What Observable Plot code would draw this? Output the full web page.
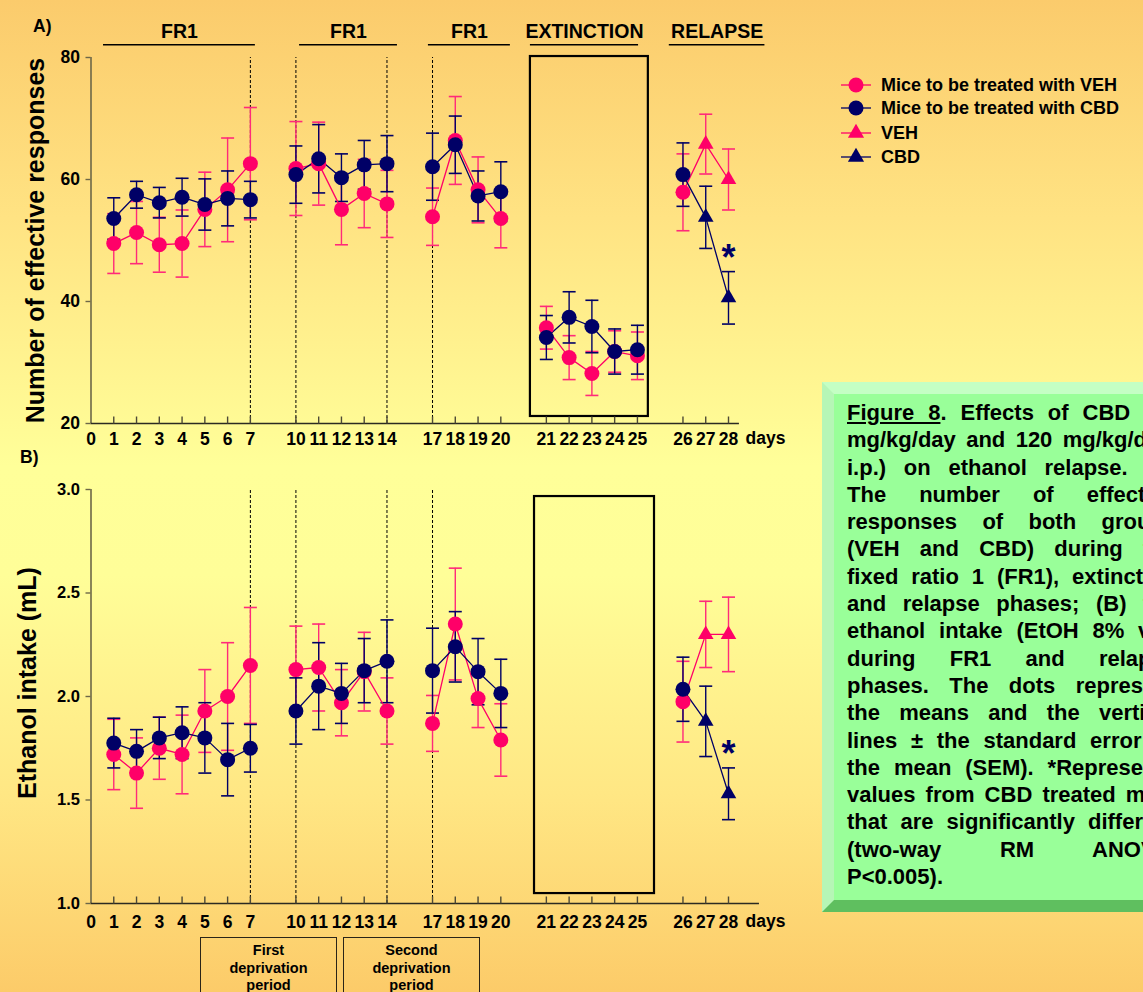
<!DOCTYPE html>
<html>
<head>
<meta charset="utf-8">
<script src="https://cdn.jsdelivr.net/npm/d3@7"></script>
<script src="https://cdn.jsdelivr.net/npm/@observablehq/plot@0.6"></script>
<style>
  html, body { margin: 0; padding: 0; }
  body {
    width: 1143px; height: 992px; overflow: hidden; position: relative;
    background: linear-gradient(to bottom, #FBCB6C 0%, #FFE383 22%, #FFFF99 47%, #FFFE98 58%, #FFE784 80%, #FCCB69 100%);
    font-family: "Liberation Sans", Arial, sans-serif; font-weight: bold; color: #000;
  }
  .abs { position: absolute; }
  .panel-tag { font-size: 17.5px; }
  #caption {
    position: absolute; left: 822px; top: 382px; width: 360px; height: 501px;
    border-style: solid; border-width: 12px;
    border-color: #C4FFC4 #5FBF5F #5FBF5F #B6F6B6;
    background: #99FF99;
    padding: 5px 0 0 13px; box-sizing: content-box;
    font-size: 22px; line-height: 27.3px;
  }
  #caption .ln { width: 329px; text-align: justify; text-align-last: justify; }
  #caption .ln.last { text-align-last: left; }
  .period {
    position: absolute; top: 937px; height: 70px; width: 137px;
    border: 1.5px solid #2a2418; text-align: center;
    font-size: 14.5px; line-height: 17.5px; padding-top: 4px; box-sizing: border-box;
  }
</style>
</head>
<body>
<div class="abs panel-tag" style="left:33px; top:16px;">A)</div>
<div class="abs panel-tag" style="left:20px; top:447px;">B)</div>
<div id="panelA" class="abs" style="left:0; top:0;"></div>
<div id="panelB" class="abs" style="left:0; top:450px;"></div>
<div id="legend" class="abs" style="left:838px; top:70px;"></div>
<div id="caption"></div>
<div class="period" style="left:200px;">First<br>deprivation<br>period</div>
<div class="period" style="left:343px;">Second<br>deprivation<br>period</div>

<script>
// ---- axis categories: day labels, blank entries are spacer slots on the axis ----
const axisSlots = ["0","1","2","3","4","5","6","7","","10","11","12","13","14","","17","18","19","20","","21","22","23","24","25","","26","27","28"];

// ---- (A) number of effective responses ----
const respDays    = [1, 2, 3, 4, 5, 6, 7, 10, 11, 12, 13, 14, 17, 18, 19, 20, 21, 22, 23, 24, 25, 26, 27, 28];
const respVehMean = [49.5, 51.3, 49.3, 49.5, 55.1, 58.3, 62.6, 61.8, 62.6, 55.1, 57.7, 56.0, 53.9, 66.4, 58.3, 53.6, 35.7, 30.8, 28.2, 31.8, 31.1, 57.9, 65.8, 60.0];
const respVehSem  = [4.9, 5.1, 4.5, 5.5, 6.1, 8.5, 9.2, 7.7, 6.8, 5.8, 5.6, 5.5, 4.7, 7.2, 5.4, 4.8, 3.5, 3.6, 3.6, 3.4, 3.9, 6.3, 4.9, 5.0];
const respCbdMean = [53.6, 57.5, 56.2, 57.1, 55.9, 56.9, 56.7, 60.8, 63.4, 60.3, 62.4, 62.6, 62.1, 65.7, 57.3, 58.0, 34.1, 37.4, 35.9, 31.8, 32.1, 60.8, 53.8, 40.6];
const respCbdSem  = [3.4, 2.2, 2.5, 3.1, 4.2, 4.5, 3.0, 4.7, 5.6, 3.9, 4.0, 4.6, 5.5, 4.7, 4.1, 4.9, 3.6, 4.2, 4.3, 3.7, 4.0, 5.2, 5.1, 4.3];

// ---- (B) ethanol intake (mL) ----
const intakeDays    = [1, 2, 3, 4, 5, 6, 7, 10, 11, 12, 13, 14, 17, 18, 19, 20, 26, 27, 28];
const intakeVehMean = [1.72, 1.63, 1.75, 1.72, 1.93, 2.00, 2.15, 2.13, 2.14, 1.97, 2.12, 1.93, 1.87, 2.35, 1.99, 1.79, 1.975, 2.30, 2.30];
const intakeVehSem  = [0.17, 0.17, 0.15, 0.19, 0.20, 0.26, 0.28, 0.21, 0.21, 0.16, 0.19, 0.16, 0.135, 0.27, 0.14, 0.175, 0.195, 0.16, 0.18];
const intakeCbdMean = [1.775, 1.735, 1.80, 1.825, 1.80, 1.695, 1.75, 1.93, 2.05, 2.015, 2.125, 2.17, 2.125, 2.24, 2.12, 2.015, 2.035, 1.88, 1.53];
const intakeCbdSem  = [0.12, 0.105, 0.10, 0.125, 0.17, 0.175, 0.115, 0.16, 0.21, 0.145, 0.155, 0.20, 0.205, 0.17, 0.16, 0.165, 0.155, 0.17, 0.125];

// treatment starts on day 27; CBD significantly different on these days
const treatmentStart = 27;
const significantDays = [28];
// deprivation boundaries (dashed lines)
const boundaryDays = [7, 10, 14, 17];

const legendLabels = ["Mice to be treated with VEH", "Mice to be treated with CBD", "VEH", "CBD"];

// phase headers of panel A, spans in axis-slot units
const phases = [
  {label: "FR1", x1: 0.55, x2: 7.22},
  {label: "FR1", x1: 9.16, x2: 13.46},
  {label: "FR1", x1: 14.82, x2: 18.42},
  {label: "EXTINCTION", x1: 19.3, x2: 24.05},
  {label: "RELAPSE", x1: 25.4, x2: 29.6}
];

const captionLines = [
  '<u>Figure 8</u>. Effects of CBD (60',
  'mg/kg/day and 120 mg/kg/day,',
  'i.p.) on ethanol relapse. (A)',
  'The number of effective',
  'responses of both groups',
  '(VEH and CBD) during the',
  'fixed ratio 1 (FR1), extinction',
  'and relapse phases; (B) the',
  'ethanol intake (EtOH 8% v/v)',
  'during FR1 and relapse',
  'phases. The dots represent',
  'the means and the vertical',
  'lines \u00b1 the standard error of',
  'the mean (SEM). *Represents',
  'values from CBD treated mice',
  'that are significantly different',
  '(two-way RM ANOVA,',
  'P&lt;0.005).'
];

const PINK = "#FF0068";
const PINK_BAR = "#FF2A7A";
const NAVY = "#000066";
const FONT = '"Liberation Sans", Arial, sans-serif';

const slot = d => axisSlots.indexOf(String(d));
const labelledSlots = axisSlots.map((s, i) => s === "" ? null : i).filter(i => i !== null);

function buildRows(days, mean, sem, group) {
  let seg = 0;
  return days.map((day, i) => {
    if (i > 0 && slot(day) - slot(days[i - 1]) > 1) seg++;
    return {day, x: slot(day), mean: mean[i], sem: sem[i], group, seg, treated: day >= treatmentStart};
  });
}

const capSymbol = {draw(ctx, size) { const r = Math.sqrt(size / Math.PI); ctx.moveTo(-r, 0); ctx.lineTo(r, 0); }};
const tickUpSymbol = {draw(ctx, size) { const r = Math.sqrt(size / Math.PI); ctx.moveTo(0, 0); ctx.lineTo(0, -r); }};

function seriesMarks(rows, barColor) {
  return [
    Plot.ruleX(rows, {x: "x", y1: d => d.mean - d.sem, y2: d => d.mean + d.sem, stroke: barColor, strokeWidth: 1.4}),
    Plot.dot(rows, {x: "x", y: d => d.mean + d.sem, symbol: capSymbol, r: 6.5, stroke: barColor, fill: "none", strokeWidth: 1.6}),
    Plot.dot(rows, {x: "x", y: d => d.mean - d.sem, symbol: capSymbol, r: 6.5, stroke: barColor, fill: "none", strokeWidth: 1.6})
  ];
}
function lineMarks(rows, color) {
  return [Plot.line(rows, {x: "x", y: "mean", z: "seg", stroke: color, strokeWidth: 1.3})];
}
function pointMarks(rows, color) {
  return [
    Plot.dot(rows.filter(d => !d.treated), {x: "x", y: "mean", r: 7.5, fill: color, stroke: "none", symbol: "circle"}),
    Plot.dot(rows.filter(d => d.treated), {x: "x", y: "mean", r: 5.8, fill: color, stroke: "none", symbol: "triangle"})
  ];
}

function panel({veh, cbd, yDomain, height, marginTop, yTicks, yFormat, yFont, xPad, axisEnd, title, titleY, titleDx, box, extra}) {
  const [y0, y1] = yDomain;
  const tickDays = axisSlots.filter(s => s !== "" && s !== "0").map(Number);
  return Plot.plot({
    width: 800, height,
    marginLeft: 90.5, marginRight: 72, marginTop, marginBottom: 27,
    style: {background: "transparent", fontFamily: FONT, overflow: "visible", color: "#000"},
    x: {type: "linear", domain: [0, 28]},
    y: {type: "linear", domain: yDomain},
    marks: [
      // extinction phase box
      Plot.rect([box], {x1: "x1", x2: "x2", y1: "y1", y2: "y2", fill: "none", stroke: "#000", strokeWidth: 2.2}),
      // deprivation boundaries
      Plot.ruleX(boundaryDays, {x: d => slot(d), y1: y0, y2: y1, stroke: "#000", strokeWidth: 1, strokeDasharray: "3,2"}),
      // axes
      Plot.ruleX([0], {y1: y0, y2: y1, stroke: "#6d6748", strokeWidth: 1.6}),
      Plot.ruleY([y0], {x1: 0, x2: axisEnd, stroke: "#2b2a22", strokeWidth: 1.6}),
      Plot.dot(tickDays, {x: d => slot(d), y: y0, symbol: tickUpSymbol, r: 7, stroke: "#4d4936", strokeWidth: 1.4, fill: "none"}),
      Plot.axisY({ticks: yTicks, tickFormat: yFormat, tickSize: 5, tickPadding: 6, fontSize: yFont, fontWeight: "bold", stroke: "#6d6748", strokeWidth: 1.4, color: "#000", label: null}),
      Plot.axisX({ticks: labelledSlots, tickFormat: i => axisSlots[i], tickSize: 0, tickPadding: xPad, fontSize: 17.5, fontWeight: "bold", label: null}),
      Plot.text(["days"], {x: 28, y: y0, dx: 37, dy: xPad + 6, fontSize: 17.5, fontWeight: "bold", textAnchor: "middle"}),
      Plot.text([title], {x: 0, y: titleY, dx: titleDx, rotate: -90, fontSize: 25, fontWeight: "bold"}),
      // data
      ...seriesMarks(veh, PINK_BAR),
      ...seriesMarks(cbd, NAVY),
      ...lineMarks(veh, PINK),
      ...lineMarks(cbd, NAVY),
      ...pointMarks(veh, PINK),
      ...pointMarks(cbd, NAVY),
      Plot.text(cbd.filter(d => significantDays.includes(d.day)), {x: "x", y: d => d.mean + d.sem, text: () => "*", dy: -13, fontSize: 36, fontWeight: "bold", fill: NAVY}),
      ...(extra || [])
    ]
  });
}

const respVeh = buildRows(respDays, respVehMean, respVehSem, "veh");
const respCbd = buildRows(respDays, respCbdMean, respCbdSem, "cbd");
const intakeVeh = buildRows(intakeDays, intakeVehMean, intakeVehSem, "veh");
const intakeCbd = buildRows(intakeDays, intakeCbdMean, intakeCbdSem, "cbd");

const plotA = panel({
  veh: respVeh, cbd: respCbd,
  yDomain: [20, 80], height: 450, marginTop: 57,
  yTicks: [20, 40, 60, 80], yFormat: d3.format("d"), yFont: 17.5,
  xPad: 9, axisEnd: 28.48,
  title: "Number of effective responses", titleY: 50, titleDx: -55,
  box: {x1: 19.3, x2: 24.48, y1: 21.15, y2: 80.16},
  extra: [
    Plot.text(phases, {x: d => (d.x1 + d.x2) / 2, y: 84.3, text: "label", fontSize: 19.5, fontWeight: "bold"}),
    Plot.ruleY(phases, {x1: "x1", x2: "x2", y: 82.1, stroke: "#000", strokeWidth: 1.5})
  ]
});

const plotB = panel({
  veh: intakeVeh, cbd: intakeCbd,
  yDomain: [1, 3], height: 480, marginTop: 39,
  yTicks: [1, 1.5, 2, 2.5, 3], yFormat: d3.format(".1f"), yFont: 16.5,
  xPad: 12, axisEnd: 29.36,
  title: "Ethanol intake (mL)", titleY: 2.065, titleDx: -63,
  box: {x1: 19.48, x2: 24.75, y1: 1.048, y2: 2.966}
});

document.getElementById("panelA").append(plotA);
document.getElementById("panelB").append(plotB);

// legend
const legendItems = legendLabels.map((label, i) => ({
  label, color: i % 2 === 0 ? PINK : NAVY, symbol: i < 2 ? d3.symbolCircle : d3.symbolTriangle
}));
const rowY = [15, 38, 63, 87];
const lsvg = d3.select("#legend").append("svg").attr("width", 305).attr("height", 100);
const lg = lsvg.selectAll("g").data(legendItems).join("g").attr("transform", (d, i) => `translate(0,${rowY[i]})`);
lg.append("line").attr("x1", 3).attr("x2", 33).attr("stroke", d => d.color).attr("stroke-width", 1.3);
lg.append("path").attr("transform", "translate(18,0)")
  .attr("d", d => d3.symbol(d.symbol, d.symbol === d3.symbolCircle ? Math.PI * 7.5 * 7.5 : Math.PI * 6 * 6)())
  .attr("fill", d => d.color);
lg.append("text").attr("x", 43).attr("dy", "0.35em").text(d => d.label)
  .attr("font-family", FONT).attr("font-weight", "bold").attr("font-size", 18);

// caption
document.getElementById("caption").innerHTML =
  captionLines.map((t, i) => `<div class="ln${i === captionLines.length - 1 ? " last" : ""}">${t}</div>`).join("");
</script>
</body>
</html>
